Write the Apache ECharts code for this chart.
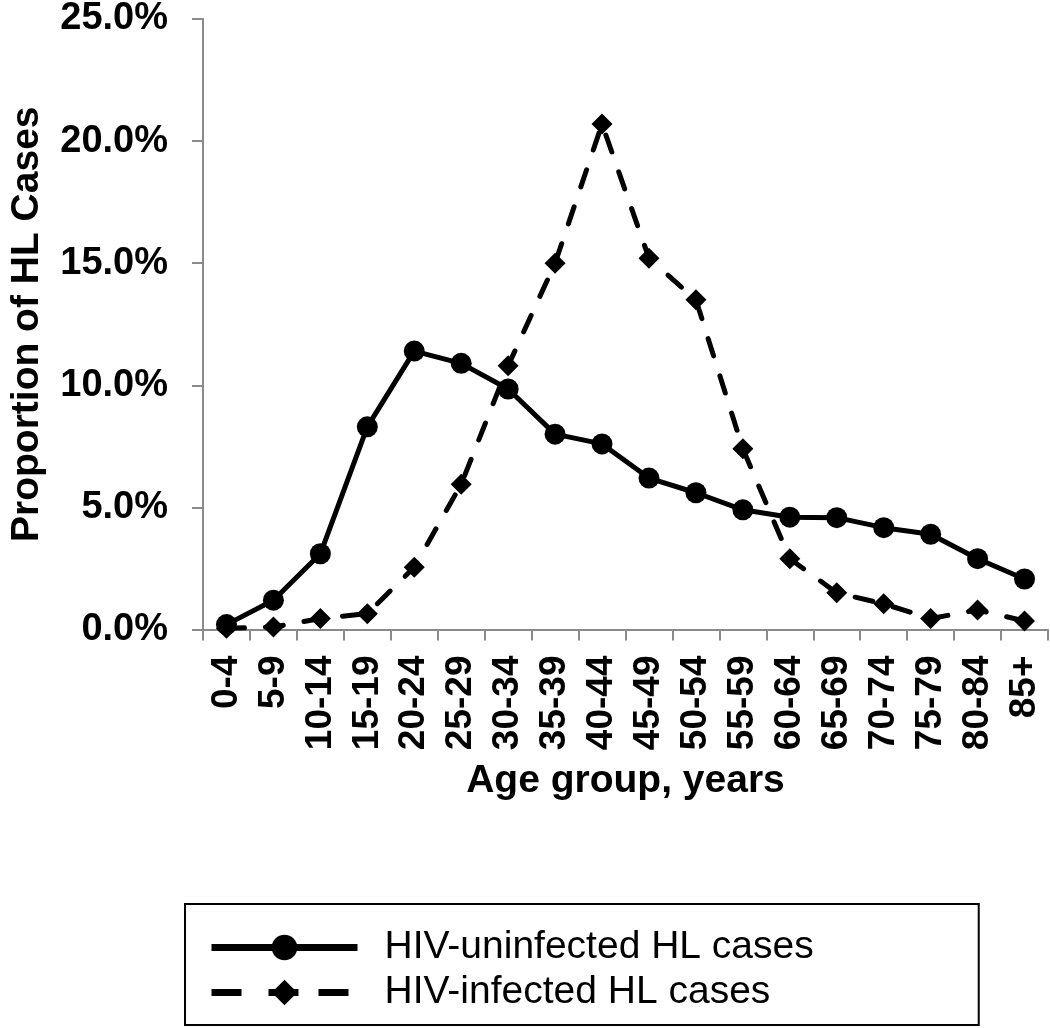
<!DOCTYPE html>
<html>
<head>
<meta charset="utf-8">
<script src="https://cdn.jsdelivr.net/npm/echarts@6/dist/echarts.min.js"></script>
<style>
  html, body { margin: 0; padding: 0; background: #fff; }
  #chart { width: 1050px; height: 1028px; }
</style>
</head>
<body>
<div id="chart"></div>
<script>
const ageGroups = ['0-4','5-9','10-14','15-19','20-24','25-29','30-34','35-39','40-44','45-49','50-54','55-59','60-64','65-69','70-74','75-79','80-84','85+'];
const hivUninfected = [0.2, 1.2, 3.1, 8.3, 11.4, 10.9, 9.85, 8.0, 7.6, 6.2, 5.6, 4.9, 4.6, 4.58, 4.17, 3.9, 2.9, 2.07];
const hivInfected = [0.05, 0.1, 0.45, 0.65, 2.55, 5.95, 10.8, 15.0, 20.7, 15.2, 13.5, 7.4, 2.9, 1.5, 1.05, 0.45, 0.8, 0.35];
const seriesNames = ['HIV-uninfected HL cases', 'HIV-infected HL cases'];
const yTicks = { min: 0, max: 25, interval: 5 };

const FONT = "'Liberation Sans', Arial, sans-serif";
const AXIS_GRAY = '#8a8a8a';

const chart = echarts.init(document.getElementById('chart'), null, { renderer: 'canvas' });
chart.setOption({
  backgroundColor: '#ffffff',
  animation: false,
  textStyle: { fontFamily: FONT, color: '#000' },
  grid: { left: 194, right: 2, top: 15, bottom: 398.5, containLabel: false },
  xAxis: {
    type: 'category',
    data: ageGroups,
    boundaryGap: true,
    name: 'Age group, years',
    nameLocation: 'middle',
    nameGap: 132,
    nameTextStyle: { fontFamily: FONT, fontWeight: 'bold', fontSize: 39, color: '#000' },
    axisLine: { lineStyle: { color: AXIS_GRAY, width: 2 } },
    axisTick: { show: true, length: 11, lineStyle: { color: AXIS_GRAY, width: 2 } },
    axisLabel: { rotate: 90, margin: 26, fontFamily: FONT, fontWeight: 'bold', fontSize: 37, color: '#000', interval: 0 },
    splitLine: { show: false }
  },
  yAxis: {
    type: 'value',
    min: yTicks.min, max: yTicks.max, interval: yTicks.interval,
    name: 'Proportion of HL Cases',
    nameLocation: 'middle',
    nameGap: 156,
    nameTextStyle: { fontFamily: FONT, fontWeight: 'bold', fontSize: 39, color: '#000' },
    axisLine: { show: true, lineStyle: { color: AXIS_GRAY, width: 2 } },
    axisTick: { show: true, length: 11, lineStyle: { color: AXIS_GRAY, width: 2 } },
    axisLabel: { margin: 35, fontFamily: FONT, fontWeight: 'bold', fontSize: 38, color: '#000',
      formatter: v => v.toFixed(1) + '%' },
    splitLine: { show: false }
  },
  legend: {
    orient: 'vertical',
    left: 185, top: 904,
    padding: [24, 165, 13, 23],
    borderColor: '#000', borderWidth: 2,
    itemWidth: 146, itemHeight: 32, itemGap: 6,
    textStyle: { fontFamily: FONT, fontSize: 39, lineHeight: 39, color: '#000', padding: [0, 0, 0, 22] },
    data: [
      { name: seriesNames[0], lineStyle: { width: 7, type: 'solid', cap: 'butt' } },
      { name: seriesNames[1], lineStyle: { width: 7, type: [30, 27, 30, 20], cap: 'butt' } }
    ]
  },
  series: [
    {
      name: seriesNames[0], type: 'line', data: hivUninfected,
      symbol: 'circle', symbolSize: 21,
      lineStyle: { color: '#000', width: 5, type: 'solid' },
      itemStyle: { color: '#000' }, z: 3
    },
    {
      name: seriesNames[1], type: 'line', data: hivInfected,
      symbol: 'diamond', symbolSize: 21,
      lineStyle: { color: '#000', width: 5, type: [18, 21], cap: 'round' },
      itemStyle: { color: '#000' }, z: 2
    }
  ]
});
</script>
</body>
</html>
